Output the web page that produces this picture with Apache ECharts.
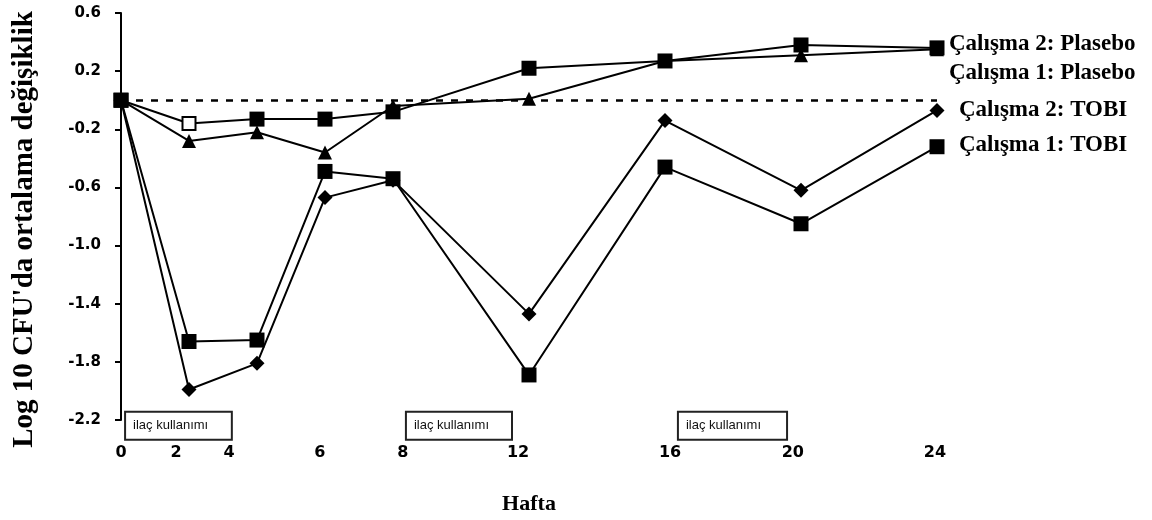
<!DOCTYPE html>
<html><head><meta charset="utf-8">
<script src="https://cdn.jsdelivr.net/npm/echarts@6/dist/echarts.min.js"></script>
<style>html,body{margin:0;padding:0;background:#fff}#c{width:1152px;height:520px}</style>
</head><body><div id="c"></div>
<script>
// ---- data ----
const weeks = [0, 2, 4, 6, 8, 12, 16, 20, 24];
const study2Placebo = [0, -0.16, -0.13, -0.13, -0.08, 0.22, 0.27, 0.38, 0.36];
const study1Placebo = [0, -0.28, -0.22, -0.36, -0.04, 0.01, 0.27, 0.31, 0.35];
const study2Tobi = [0, -1.99, -1.81, -0.67, -0.55, -1.47, -0.14, -0.62, -0.07];
const study1Tobi = [0, -1.66, -1.65, -0.49, -0.54, -1.89, -0.46, -0.85, -0.32];
const seriesNames = ['Çalışma 2: Plasebo', 'Çalışma 1: Plasebo', 'Çalışma 2: TOBI', 'Çalışma 1: TOBI'];
const xTickLabels = ['0', '2', '4', '6', '8', '12', '16', '20', '24'];
const yAxisTitle = "Log 10 CFU'da ortalama değişiklik";
const xAxisTitle = 'Hafta';
const doseLabel = 'ilaç kullanımı';

// ---- layout (positions on the week axis where the printed tick labels / boxes sit) ----
const xTickLabelPos = [0, 1.62, 3.18, 5.85, 8.29, 11.68, 16.15, 19.76, 23.94];
const doseBoxes = [[0.12, 3.26], [8.38, 11.5], [16.38, 19.59]];
const doseBoxY = [-2.144, -2.336];

const serif = "'Liberation Serif', 'Times New Roman', serif";
const sansBold = "'DejaVu Sans', sans-serif";

function pts(vals) { return weeks.map((w, i) => [w, vals[i]]); }

function lineSeries(name, vals, symbol, size, labelDx, labelDy) {
  return {
    name: name, type: 'line', data: pts(vals),
    symbol: symbol, symbolSize: size, showAllSymbol: true,
    lineStyle: { color: '#000', width: 2 },
    itemStyle: { color: '#000' },
    clip: false, animation: false, emphasis: { disabled: true },
    endLabel: {
      show: true, formatter: function () { return name; },
      distance: 0, offset: [labelDx, labelDy],
      fontFamily: serif, fontWeight: 'bold', fontSize: 23, color: '#000'
    }
  };
}

const sP1 = lineSeries(seriesNames[1], study1Placebo, 'triangle', 14, 12, 24);
sP1.markLine = {
  silent: true, symbol: 'none', label: { show: false },
  lineStyle: { color: '#000', width: 2.5, type: [7, 8] },
  data: [[{ coord: [0, 0] }, { coord: [24, 0] }]]
};
const sT2 = lineSeries(seriesNames[2], study2Tobi, 'diamond', 15, 22, 0);
const sP2 = lineSeries(seriesNames[0], study2Placebo, 'rect', 15, 12, -4);
sP2.data = sP2.data.map((d, i) => i === 1
  ? { value: d, symbolSize: 13, itemStyle: { color: '#fff', borderColor: '#000', borderWidth: 2 } }
  : d);
const sT1 = lineSeries(seriesNames[3], study1Tobi, 'rect', 15, 22, -2);

const chart = echarts.init(document.getElementById('c'), null, { renderer: 'canvas' });
chart.setOption({
  animation: false,
  backgroundColor: '#fff',
  grid: { left: 121, right: 215, top: 13, bottom: 97, containLabel: false },
  xAxis: {
    type: 'value', min: 0, max: 24,
    axisLine: { show: false }, axisTick: { show: false }, splitLine: { show: false },
    axisLabel: {
      customValues: xTickLabelPos, margin: 25,
      fontFamily: sansBold, fontWeight: 'bold', fontSize: 16, color: '#000',
      formatter: function (v) {
        for (let i = 0; i < xTickLabelPos.length; i++) if (Math.abs(v - xTickLabelPos[i]) < 1e-6) return xTickLabels[i];
        return '';
      }
    },
    name: xAxisTitle, nameLocation: 'middle', nameGap: 73,
    nameTextStyle: { fontFamily: serif, fontWeight: 'bold', fontSize: 22, color: '#000' }
  },
  yAxis: {
    type: 'value', min: -2.2, max: 0.6, interval: 0.4,
    axisLine: { show: true, lineStyle: { color: '#000', width: 2 } },
    axisTick: { show: true, length: 6, lineStyle: { color: '#000', width: 2 } },
    splitLine: { show: false },
    axisLabel: {
      margin: 20, fontFamily: sansBold, fontWeight: 'bold', fontSize: 15, color: '#000',
      formatter: function (v) { return v.toFixed(1); }
    },
    name: yAxisTitle, nameLocation: 'middle', nameGap: 82,
    nameTextStyle: { fontFamily: serif, fontWeight: 'bold', fontSize: 29, color: '#000', padding: [0, 26, 0, 0] }
  },
  series: [sP1, sT2, sP2, sT1]
});

// dose-period boxes placed through the chart's own axes
const graphics = [];
doseBoxes.forEach(function (b) {
  const x0 = chart.convertToPixel({ xAxisIndex: 0 }, b[0]);
  const x1 = chart.convertToPixel({ xAxisIndex: 0 }, b[1]);
  const y0 = chart.convertToPixel({ yAxisIndex: 0 }, doseBoxY[0]);
  const y1 = chart.convertToPixel({ yAxisIndex: 0 }, doseBoxY[1]);
  graphics.push({
    type: 'rect', silent: true, z: 10,
    shape: { x: x0, y: y0, width: x1 - x0, height: y1 - y0 },
    style: { fill: '#fff', stroke: '#222', lineWidth: 2 }
  });
  graphics.push({
    type: 'text', silent: true, z: 11,
    x: x0 + 8, y: (y0 + y1) / 2,
    style: { text: doseLabel, fill: '#111', font: "13px 'Liberation Sans', Arial, sans-serif", verticalAlign: 'middle' }
  });
});
chart.setOption({ graphic: graphics });
</script>
</body></html>
